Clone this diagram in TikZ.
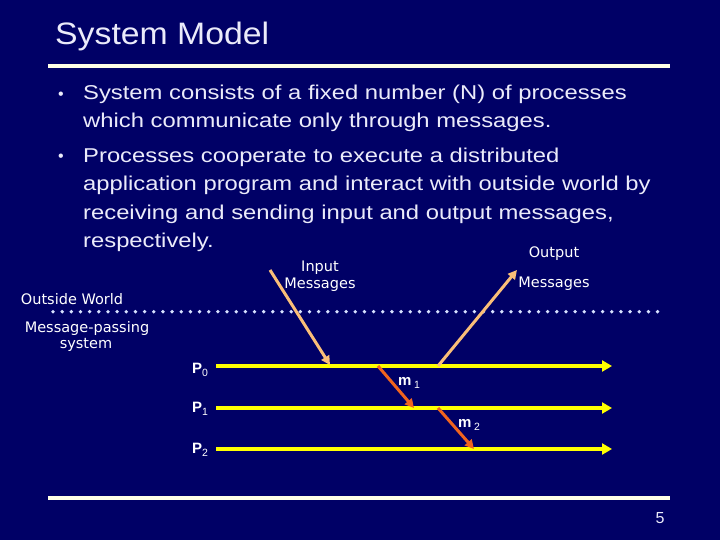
\documentclass[tikz,border=0pt]{standalone}
\usepackage{fontspec}
\setmainfont{Liberation Sans}
\newfontfamily\bodyfont{Liberation Sans}[FakeStretch=1.19]
\newfontfamily\titlefont{Liberation Sans}[FakeStretch=1.09]
\newfontfamily\comicfont{DejaVu Sans}
\usetikzlibrary{positioning,arrows.meta}
\definecolor{SlideBlue}{RGB}{0,0,102}
\definecolor{SlideText}{RGB}{235,235,250}
\definecolor{RuleCream}{RGB}{255,255,230}
\definecolor{ProcYellow}{RGB}{255,255,0}
\definecolor{IoTan}{RGB}{250,190,120}
\definecolor{MsgOrange}{RGB}{240,100,30}
\definecolor{DotBlue}{RGB}{215,225,255}
\tikzset{
  txt/.style={text=SlideText,inner sep=0pt},
  body/.style={txt,anchor=base west,align=left,font=\bodyfont\fontsize{20}{28.5}\selectfont},
  comic/.style={text=white,inner sep=0pt,font=\comicfont\fontsize{14.5}{16}\selectfont},
  plbl/.style={text=white,inner sep=0pt,font=\bfseries\fontsize{15}{15}\selectfont},
  proc/.style={draw=ProcYellow,line width=4pt,-{Triangle[length=10pt,width=11pt]}},
  io/.style={draw=IoTan,line width=3pt,-{Triangle[length=9pt,width=9pt]}},
  msg/.style={draw=MsgOrange,line width=3pt,-{Triangle[length=9pt,width=9pt]}},
  slrule/.style={draw=RuleCream,line width=3.5pt},
}
\newcommand{\sub}[1]{\raisebox{-3pt}{\mdseries\fontsize{10.5}{10.5}\selectfont #1}}

\begin{document}
\begin{tikzpicture}[x=1pt,y=-1pt]
\fill[SlideBlue] (0,0) rectangle (720,540);
\useasboundingbox (0,0) rectangle (720,540);
% title and rules
\node[txt,anchor=base west,font=\titlefont\fontsize{31}{31}\selectfont] (title) at (55,45) {System Model};
\coordinate (r1a) at (48,66);
\coordinate (r1b) at (670,66);
\coordinate (r2a) at (48,498);
\coordinate (r2b) at (670,498);
\draw[slrule] (r1a)--(r1b);
\draw[slrule] (r2a)--(r2b);
\node[txt,font=\fontsize{16}{16}\selectfont] (pg) at (660,518) {5};
% bullets (base = last line)
\node[txt,anchor=base,font=\fontsize{16}{16}\selectfont] (d1) at (61,99.3) {•};
\node[body] (b1) at (83,127.8)
  {System consists of a fixed number (N) of processes\\which communicate only through messages.};
\node[txt,anchor=base,font=\fontsize{16}{16}\selectfont] (d2) at (61,162) {•};
\node[body] (b2) at (83,247.5)
  {Processes cooperate to execute a distributed\\application program and interact with outside world by\\receiving and sending input and output messages,\\respectively.};
% outside world / message-passing boundary
\node[comic,anchor=base] (ow) at (72,304) {Outside World};
\node[comic,anchor=base] (mp) at (87,332) {Message-passing};
\node[comic,anchor=base] (ms) at (86,348) {system};
\foreach \i in {0,...,66}
  \fill[DotBlue] (53+\i*9.16,311.7) circle (1.9);
% input and output labels
\node[comic,anchor=base] (inl) at (320,271) {Input};
\node[comic,anchor=base] (inm) at (320,288) {Messages};
\node[comic,anchor=base] (outl) at (554,258) {Output};
\node[comic,anchor=base] (outm) at (554,287) {Messages};
% processes
\coordinate (p0s) at (216,366);
\coordinate (p0e) at (612,366);
\coordinate (p1s) at (216,408);
\coordinate (p1e) at (612,408);
\coordinate (p2s) at (216,449);
\coordinate (p2e) at (612,449);
\draw[proc] (p0s)--(p0e);
\draw[proc] (p1s)--(p1e);
\draw[proc] (p2s)--(p2e);
\node[plbl,anchor=base] (P0) at (200,373) {P\sub{0}};
\node[plbl,anchor=base] (P1) at (200,412) {P\sub{1}};
\node[plbl,anchor=base] (P2) at (200,453) {P\sub{2}};
% messages
\coordinate (inS) at (270,270);
\coordinate (inE) at (330,365);
\coordinate (outS) at (438,366);
\coordinate (outE) at (517,270);
\draw[io] (inS)--(inE);
\draw[io] (outS)--(outE);
\coordinate (m1S) at (378,366);
\coordinate (m1E) at (414,408);
\coordinate (m2S) at (438,408);
\coordinate (m2E) at (474,449);
\draw[msg] (m1S)--(m1E);
\draw[msg] (m2S)--(m2E);
\node[plbl,anchor=base west] (m1) at (398,385) {m\,\sub{1}};
\node[plbl,anchor=base west] (m2) at (458,427) {m\,\sub{2}};
\end{tikzpicture}
\end{document}
